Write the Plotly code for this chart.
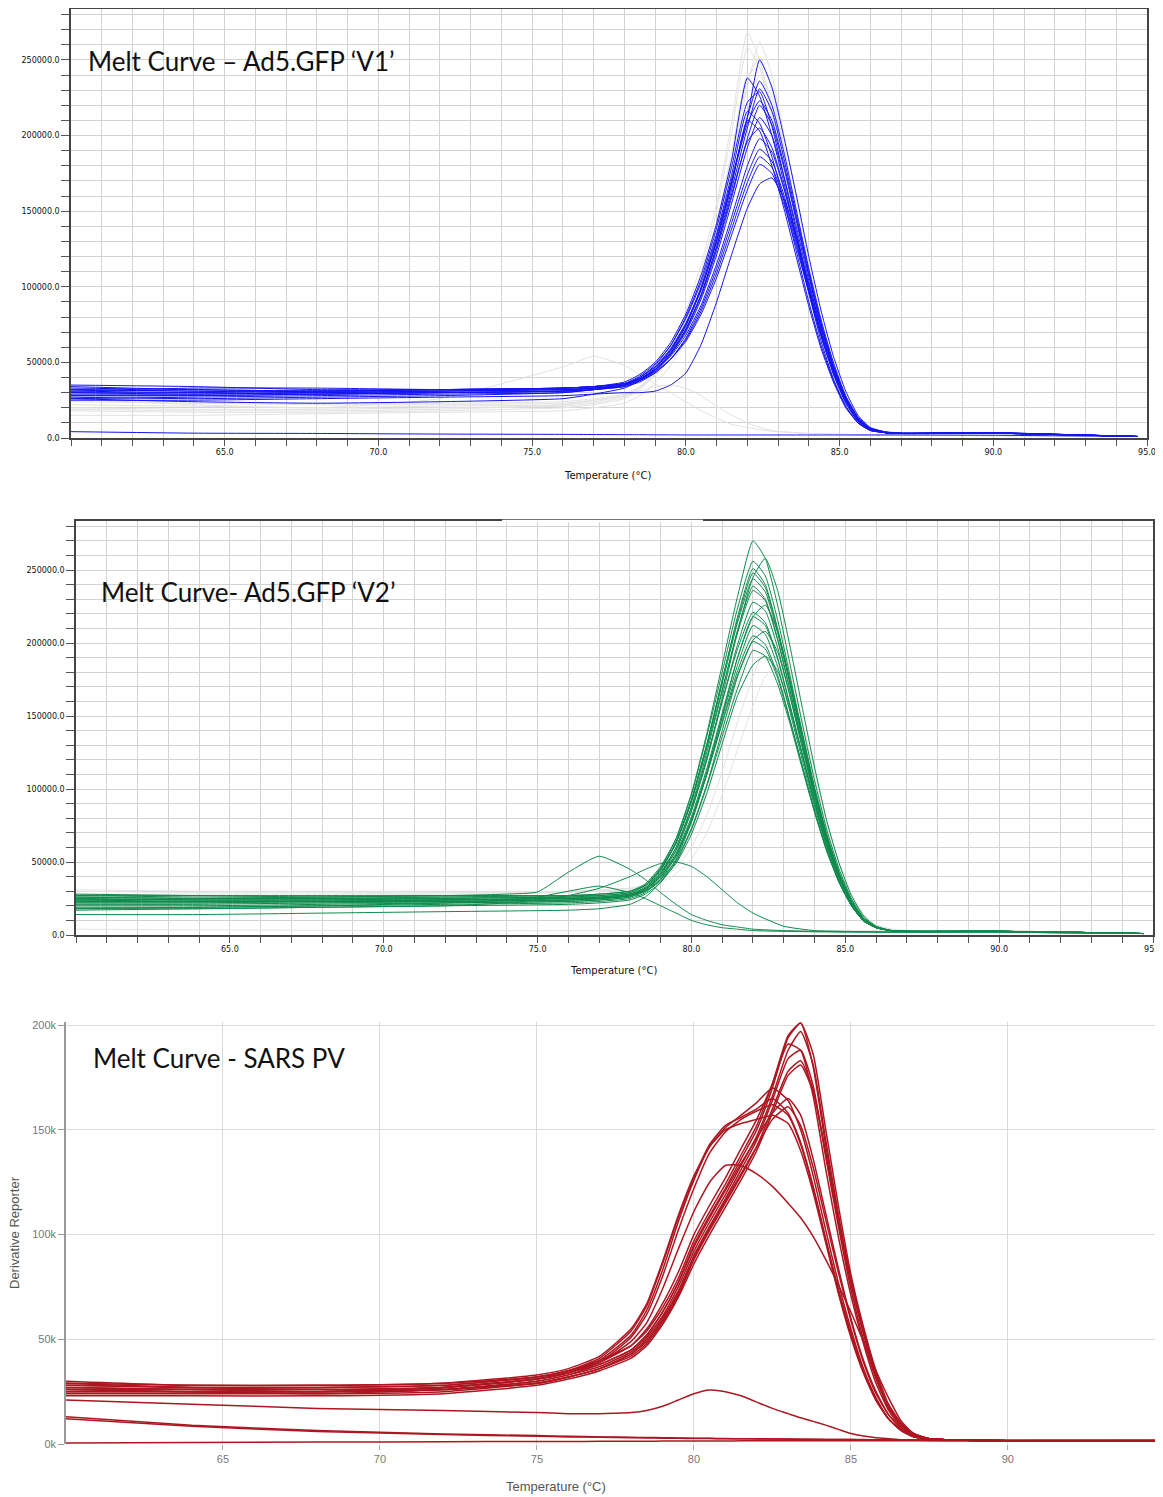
import plotly.graph_objects as go

# ---------------- Panel 1 : Ad5.GFP 'V1' (values in thousands) ----------------
T1 = [60, 64, 68, 72, 76, 77, 78, 78.5, 79, 79.5, 80, 80.5, 81, 81.5, 82, 82.4, 82.8,
      83.2, 83.6, 84, 84.4, 84.8, 85.2, 85.6, 86, 86.5, 87, 90, 92, 94.7]

v1_blue = [
    [32, 31, 31, 32, 33, 34, 36, 40, 47, 58, 75, 100, 133, 172, 212, 250, 232, 198, 160, 120, 84, 54, 31, 15, 7, 4, 3.5, 3.5, 2.5, 1],
    [30, 29, 30, 31, 33, 34, 37, 42, 50, 63, 82, 108, 142, 185, 238, 226, 200, 168, 132, 96, 64, 39, 21, 10, 5, 3.5, 3, 3.5, 2.5, 1],
    [28, 28, 29, 30, 31, 32, 35, 39, 46, 57, 74, 98, 130, 170, 212, 236, 220, 188, 150, 112, 78, 50, 28, 14, 6.5, 4, 3, 3.5, 2.5, 1],
    [34, 32, 31, 31, 32, 33, 35, 38, 44, 55, 71, 95, 127, 165, 205, 231, 216, 184, 147, 110, 76, 48, 27, 13, 6, 3.5, 3, 3.2, 2.3, 1],
    [26, 27, 28, 29, 30, 32, 35, 40, 48, 61, 80, 105, 139, 180, 222, 229, 206, 172, 136, 100, 68, 42, 23, 11, 5.5, 3.5, 3, 3.3, 2.4, 1],
    [31, 30, 29, 30, 31, 32, 34, 38, 45, 56, 72, 95, 126, 162, 198, 220, 207, 178, 143, 107, 74, 47, 26, 12, 6, 3.5, 3, 3.3, 2.4, 1],
    [33, 32, 31, 32, 33, 34, 36, 41, 49, 61, 79, 103, 135, 175, 216, 208, 186, 156, 123, 90, 61, 38, 21, 10, 5, 3.5, 3, 3.4, 2.4, 1],
    [29, 29, 30, 31, 32, 33, 35, 39, 45, 55, 70, 92, 121, 156, 192, 212, 200, 172, 139, 104, 72, 46, 26, 12, 6, 3.5, 3, 3.2, 2.3, 1],
    [27, 26, 27, 28, 30, 32, 35, 40, 47, 59, 76, 99, 130, 168, 210, 203, 180, 151, 119, 87, 59, 37, 20, 10, 5, 3.5, 3, 3.3, 2.4, 1],
    [30, 30, 31, 32, 33, 34, 36, 39, 45, 54, 68, 88, 115, 147, 180, 198, 189, 164, 133, 100, 70, 45, 25, 12, 6, 3.5, 3, 3.2, 2.3, 1],
    [32, 31, 30, 30, 31, 32, 34, 37, 43, 52, 66, 86, 112, 143, 174, 191, 183, 160, 130, 98, 69, 44, 25, 12, 6, 3.5, 3, 3.2, 2.3, 1],
    [28, 28, 29, 30, 31, 33, 35, 38, 43, 52, 65, 84, 109, 139, 169, 186, 179, 157, 128, 97, 68, 44, 25, 12, 6, 3.5, 3, 3.2, 2.3, 1],
    [35, 34, 32, 32, 33, 34, 36, 39, 44, 52, 64, 82, 106, 135, 164, 181, 175, 154, 126, 96, 67, 43, 24, 12, 6, 3.5, 3, 3.2, 2.3, 1],
    [25, 25, 26, 27, 28, 29, 30, 30, 31, 35, 43, 62, 90, 122, 152, 168, 172, 158, 132, 102, 72, 47, 27, 13, 6.5, 4, 3, 3.2, 2.3, 1],
    [31, 33, 33, 32, 32, 33, 35, 39, 46, 58, 75, 99, 131, 170, 208, 223, 210, 180, 145, 108, 75, 48, 27, 13, 6, 3.5, 3, 3.3, 2.4, 1],
    [26, 24, 23, 24, 26, 29, 33, 38, 45, 56, 72, 94, 124, 160, 196, 205, 192, 165, 133, 99, 68, 43, 24, 11, 5.5, 3.5, 3, 3.2, 2.3, 1],
    [4.2, 3.2, 3.0, 2.6, 2.4, 2.3, 2.2, 2.2, 2.1, 2.1, 2.0, 2.0, 2.0, 2.0, 2.0, 2.0, 2.0, 2.0, 2.0, 2.0, 2.0, 2.0, 2.0, 2.0, 2.0, 2.0, 2.0, 1.8, 1.5, 1.0],
]

v1_gray = [
    [22, 21, 20, 21, 22, 24, 28, 34, 44, 60, 84, 115, 155, 210, 268, 250, 215, 175, 135, 98, 65, 40, 22, 10, 5, 3.5, 3, 3, 2, 1],
    [18, 17, 17, 18, 20, 22, 26, 32, 42, 57, 80, 110, 150, 203, 258, 245, 212, 172, 133, 96, 64, 39, 21, 10, 5, 3.5, 3, 3, 2, 1],
    [25, 24, 23, 23, 24, 26, 29, 34, 42, 55, 74, 100, 136, 182, 232, 262, 240, 200, 158, 116, 78, 48, 26, 12, 6, 3.5, 3, 3, 2, 1],
    [20, 19, 19, 20, 21, 23, 27, 33, 42, 56, 77, 105, 142, 190, 240, 245, 220, 182, 142, 104, 70, 43, 23, 11, 5, 3.5, 3, 3, 2, 1],
    [26, 22, 20, 26, 47, 54, 48, 42, 36, 30, 24, 18, 13, 9, 7, 5.5, 4.5, 4, 3.5, 3, 3, 2.5, 2.5, 2, 2, 2, 2, 1.5, 1.2, 1],
    [19, 18, 18, 19, 22, 25, 28, 31, 34, 35, 33, 28, 21, 15, 10, 7, 5, 4, 3.5, 3, 3, 2.5, 2.5, 2, 2, 2, 2, 1.5, 1.2, 1],
    [15, 15, 16, 17, 18, 20, 23, 28, 36, 48, 66, 92, 126, 170, 215, 240, 225, 190, 150, 110, 74, 45, 24, 11, 5, 3.5, 3, 3, 2, 1],
    [24, 23, 22, 22, 23, 25, 28, 33, 41, 54, 73, 100, 137, 184, 236, 252, 230, 192, 150, 110, 74, 46, 25, 12, 5.5, 3.5, 3, 3, 2, 1],
]

# ---------------- Panel 2 : Ad5.GFP 'V2' ----------------
T2 = T1

v2_green = [
    [26, 25, 25, 26, 27, 27, 29, 34, 46, 66, 97, 138, 185, 232, 270, 258, 226, 186, 145, 106, 72, 45, 25, 12, 6, 3, 2.5, 2.5, 2, 1],
    [24, 24, 24, 25, 26, 26, 28, 32, 42, 58, 85, 120, 163, 208, 245, 258, 236, 198, 156, 115, 78, 49, 27, 13, 6, 3, 2.5, 2.5, 2, 1],
    [27, 26, 26, 27, 27, 28, 30, 35, 47, 66, 96, 136, 180, 224, 256, 246, 216, 178, 139, 101, 68, 42, 23, 11, 5.5, 3, 2.5, 2.5, 2, 1],
    [22, 22, 23, 24, 25, 25, 27, 32, 44, 63, 92, 130, 174, 218, 251, 240, 210, 174, 136, 99, 67, 42, 23, 11, 5.5, 3, 2.5, 2.5, 2, 1],
    [25, 24, 24, 24, 25, 26, 28, 33, 45, 64, 93, 131, 175, 216, 248, 238, 209, 173, 135, 99, 67, 41, 22, 11, 5.5, 3, 2.5, 2.5, 2, 1],
    [20, 20, 21, 22, 23, 24, 26, 31, 42, 60, 88, 125, 167, 209, 239, 230, 203, 168, 131, 96, 65, 40, 22, 10, 5, 3, 2.5, 2.5, 2, 1],
    [28, 27, 26, 26, 26, 27, 29, 34, 45, 63, 91, 128, 168, 207, 236, 229, 202, 168, 131, 96, 65, 40, 22, 10, 5, 3, 2.5, 2.5, 2, 1],
    [23, 23, 23, 24, 25, 25, 27, 31, 41, 58, 85, 120, 160, 199, 228, 222, 197, 164, 128, 94, 64, 40, 22, 10, 5, 3, 2.5, 2.5, 2, 1],
    [21, 21, 22, 22, 23, 24, 26, 30, 39, 54, 78, 110, 150, 190, 218, 226, 208, 175, 138, 101, 69, 43, 24, 11, 5.5, 3, 2.5, 2.5, 2, 1],
    [26, 25, 25, 25, 26, 26, 28, 32, 43, 60, 87, 122, 160, 196, 221, 214, 190, 158, 124, 91, 62, 39, 21, 10, 5, 3, 2.5, 2.5, 2, 1],
    [24, 23, 23, 23, 24, 25, 27, 31, 40, 56, 81, 114, 152, 190, 218, 212, 189, 157, 123, 90, 61, 38, 21, 10, 5, 3, 2.5, 2.5, 2, 1],
    [19, 19, 20, 21, 22, 23, 25, 29, 38, 54, 79, 112, 149, 185, 212, 206, 184, 153, 120, 88, 60, 37, 20, 9.5, 5, 3, 2.5, 2.5, 2, 1],
    [22, 22, 22, 23, 24, 25, 27, 30, 38, 51, 73, 103, 140, 177, 202, 208, 194, 164, 130, 96, 66, 41, 23, 11, 5.5, 3, 2.5, 2.5, 2, 1],
    [25, 24, 24, 24, 25, 25, 27, 31, 40, 55, 79, 110, 145, 178, 201, 196, 176, 147, 116, 85, 58, 36, 20, 9.5, 5, 3, 2.5, 2.5, 2, 1],
    [18, 18, 19, 20, 21, 22, 24, 28, 36, 50, 72, 102, 136, 169, 195, 191, 172, 145, 114, 84, 57, 36, 20, 9.5, 5, 3, 2.5, 2.5, 2, 1],
    [23, 23, 23, 23, 24, 25, 27, 30, 37, 49, 69, 97, 131, 164, 185, 191, 181, 155, 124, 92, 63, 40, 22, 10.5, 5.5, 3, 2.5, 2.5, 2, 1],
    [14, 14, 15, 16, 17, 18, 21, 26, 36, 52, 77, 110, 146, 181, 205, 199, 178, 148, 116, 85, 58, 36, 20, 9.5, 5, 3, 2.5, 2.5, 2, 1],
    [27, 27, 27, 27, 27, 28, 30, 34, 45, 63, 92, 130, 172, 214, 244, 235, 207, 172, 134, 98, 66, 41, 22, 10, 5, 3, 2.5, 2.5, 2, 1],
]

# early-melting green wells, on their own temperature grid
T2b = [60, 64, 68, 72, 74, 75, 76, 77, 78, 78.5, 79, 79.5, 80, 80.5, 81, 81.5, 82, 83, 84, 85, 86, 87, 90, 92, 94.7]
v2_green_odd = [
    [24, 25, 26, 27, 28, 29.5, 43, 54, 45, 38, 29, 21, 14, 10, 7, 5.5, 4, 3, 2.5, 2.2, 2, 2, 2, 1.5, 1],
    [18, 19, 20, 22, 24, 26, 30, 33.5, 29, 25, 20, 15, 10, 7, 5, 4, 3, 2.5, 2.2, 2, 2, 2, 2, 1.5, 1],
    [17, 18, 19, 20, 22, 24, 27, 32, 40, 45, 49, 50, 47, 40, 31, 22, 15, 6, 3, 2.5, 2.2, 2, 2, 1.5, 1],
]

v2_gray = [
    [30, 29, 29, 29, 30, 31, 32, 35, 42, 53, 72, 99, 134, 172, 203, 215, 203, 174, 140, 104, 71, 45, 25, 12, 6, 3.5, 3, 3, 2, 1],
    [28, 28, 28, 29, 29, 30, 31, 33, 38, 46, 60, 82, 112, 146, 177, 196, 200, 180, 148, 112, 78, 50, 28, 14, 7, 4, 3, 3, 2, 1],
    [31, 30, 30, 30, 30, 31, 32, 33, 36, 42, 52, 70, 96, 127, 157, 177, 185, 170, 142, 108, 76, 49, 28, 14, 7, 4, 3, 3, 2, 1],
    [26, 26, 27, 28, 29, 30, 31, 34, 41, 53, 73, 102, 140, 180, 214, 230, 215, 182, 145, 107, 73, 46, 25, 12, 6, 3.5, 3, 3, 2, 1],
    [4, 3.5, 3.2, 3, 3, 3, 3, 3, 3, 3, 3, 3, 3, 3, 3, 3, 3, 3, 3, 3, 3, 3, 3, 3, 3, 3, 2.8, 2.5, 2, 1],
]

# ---------------- Panel 3 : SARS PV ----------------
T3 = [60, 64, 68, 72, 75, 76, 77, 78, 78.5, 79, 79.5, 80, 80.5, 81, 81.5, 82, 82.5, 83,
      83.4, 83.8, 84.2, 84.6, 85, 85.4, 85.8, 86.2, 86.6, 87, 87.5, 88, 90, 94.75]

v3_red = [
    [27, 26, 26, 27, 31, 34, 38, 45, 52, 63, 77, 95, 109, 122, 136, 150, 170, 194, 201, 180, 142, 108, 77, 53, 33, 18, 9, 4.5, 2.5, 2, 1.5, 1.5],
    [29, 27, 27, 28, 32, 35, 40, 47, 54, 65, 79, 97, 111, 124, 138, 152, 172, 195, 201, 186, 150, 114, 81, 56, 35, 19, 10, 5, 2.5, 2, 1.5, 1.5],
    [25, 25, 24, 26, 30, 33, 37, 44, 51, 61, 75, 92, 106, 119, 133, 147, 166, 188, 197, 181, 145, 110, 79, 54, 33, 18, 9.5, 4.5, 2.5, 2, 1.5, 1.5],
    [28, 27, 26, 27, 31, 34, 39, 47, 55, 67, 82, 100, 114, 127, 141, 155, 172, 191, 188, 166, 131, 99, 71, 48, 29, 16, 8, 4, 2.5, 2, 1.5, 1.5],
    [24, 24, 24, 25, 29, 32, 36, 43, 50, 60, 73, 90, 104, 117, 131, 145, 164, 184, 188, 171, 137, 104, 74, 50, 31, 17, 9, 4.5, 2.5, 2, 1.5, 1.5],
    [26, 25, 25, 26, 29, 32, 36, 42, 48, 58, 71, 88, 102, 115, 128, 142, 160, 178, 183, 169, 138, 106, 77, 53, 32, 18, 9.5, 4.5, 2.5, 2, 1.5, 1.5],
    [23, 23, 23, 24, 28, 31, 35, 41, 47, 57, 70, 86, 100, 113, 126, 140, 158, 176, 181, 168, 139, 107, 78, 54, 33, 18, 9.5, 5, 2.5, 2, 1.5, 1.5],
    [27, 26, 26, 27, 31, 34, 40, 52, 64, 83, 106, 126, 142, 151, 157, 163, 170, 164, 150, 128, 102, 77, 55, 36, 22, 12, 6.5, 3.5, 2.5, 2, 1.5, 1.5],
    [28, 27, 27, 28, 32, 35, 41, 54, 66, 86, 108, 127, 143, 152, 156, 160, 165, 158, 144, 123, 98, 74, 53, 35, 21, 12, 6.5, 3.5, 2.5, 2, 1.5, 1.5],
    [29, 28, 28, 29, 33, 36, 42, 55, 67, 87, 109, 128, 142, 150, 153, 155, 157, 153, 140, 120, 96, 72, 51, 34, 21, 12, 6.5, 3.5, 2.5, 2, 1.5, 1.5],
    [26, 26, 25, 27, 31, 34, 39, 51, 62, 80, 102, 122, 139, 149, 155, 159, 162, 157, 143, 122, 97, 73, 52, 34, 21, 12, 6.5, 3.5, 2.5, 2, 1.5, 1.5],
    [26, 25, 25, 26, 30, 33, 38, 45, 52, 63, 77, 94, 108, 121, 134, 146, 158, 165, 157, 136, 110, 84, 60, 40, 25, 14, 7.5, 4, 2.5, 2, 1.5, 1.5],
    [25, 25, 25, 26, 29, 32, 36, 43, 49, 59, 72, 89, 103, 116, 129, 142, 155, 161, 152, 132, 107, 82, 59, 39, 24, 14, 7.5, 4, 2.5, 2, 1.5, 1.5],
    [30, 28, 28, 29, 32, 35, 39, 49, 58, 74, 93, 111, 125, 133, 133, 129, 123, 115, 108, 99, 88, 76, 63, 49, 35, 22, 11, 5, 2.5, 2, 1.5, 1.5],
    [21, 19, 17, 16, 15, 14.5, 14.5, 15, 16, 18, 21, 24, 25.8, 25, 23, 20, 17, 14.5, 12.5, 10.8, 9, 7, 5, 3.8, 3, 2.5, 2, 1.8, 1.7, 1.6, 1.5, 1.5],
    [13, 9, 6.5, 4.8, 4, 3.7, 3.4, 3.2, 3.1, 3, 2.9, 2.8, 2.7, 2.6, 2.5, 2.5, 2.4, 2.4, 2.3, 2.3, 2.2, 2.2, 2.1, 2.1, 2, 2, 2, 2, 2, 2, 1.8, 1.8],
    [12, 8.5, 6, 4.5, 3.7, 3.4, 3.2, 3, 2.9, 2.8, 2.7, 2.6, 2.6, 2.5, 2.5, 2.4, 2.4, 2.3, 2.3, 2.2, 2.2, 2.1, 2.1, 2, 2, 2, 2, 2, 2, 2, 1.8, 1.8],
    [0.5, 0.7, 0.9, 1.1, 1.2, 1.2, 1.3, 1.3, 1.3, 1.4, 1.4, 1.4, 1.4, 1.4, 1.5, 1.5, 1.5, 1.5, 1.5, 1.5, 1.5, 1.5, 1.5, 1.5, 1.5, 1.5, 1.5, 1.5, 1.5, 1.5, 1.6, 1.7],
]

titles = ["Melt Curve \u2013 Ad5.GFP \u2018V1\u2019", "Melt Curve- Ad5.GFP \u2018V2\u2019", "Melt Curve - SARS PV"]
x_title = "Temperature (\u00b0C)"
y_title3 = "Derivative Reporter"
x12_ticks = [65, 70, 75, 80, 85, 90, 95]
x3_ticks = [65, 70, 75, 80, 85, 90]
y3_ticks = [0, 50000, 100000, 150000, 200000]
y3_ticktext = ["0k", "50k", "100k", "150k", "200k"]

# The page places the figure 8 px from the top-left corner (default body margin),
# so the figure is sized to the remaining window and page pixels are shifted.
OFF = 8
W, H = 1163 - OFF, 1497 - OFF
def px_x(p): return (p - OFF) / W
def px_y(p): return 1 - (p - OFF) / H

fig = go.Figure()

def add_lines(T, curves, color, width, xa, ya, shape="spline"):
    for c in curves:
        fig.add_trace(go.Scatter(x=T, y=[v * 1000 for v in c], mode="lines",
                                 line=dict(color=color, width=width, shape=shape, smoothing=0.5),
                                 xaxis=xa, yaxis=ya, showlegend=False, hoverinfo="skip"))

add_lines(T1, v1_gray, "#e2e2e2", 1.0, "x", "y")
add_lines(T1, v1_blue, "#1414f2", 1.0, "x", "y")
add_lines(T2, v2_gray, "#e4e4e4", 1.0, "x2", "y2")
add_lines(T2, v2_green, "#0e8a4c", 1.0, "x2", "y2")
add_lines(T2b, v2_green_odd, "#0e8a4c", 1.0, "x2", "y2")
add_lines(T3, v3_red, "#ad1621", 1.5, "x3", "y3")

tick_font = dict(family="DejaVu Sans, Verdana", size=8, color="#111")
grid_c = "#d2d2d2"

def step_axes(xdom, ydom, ymax):
    xa = dict(domain=xdom, range=[60, 95], tickvals=x12_ticks, tickformat=".1f",
              showgrid=True, gridcolor=grid_c, gridwidth=1,
              ticks="outside", ticklen=6, tickcolor="#555",
              minor=dict(dtick=1, tick0=60, showgrid=True, gridcolor=grid_c, ticks="outside", ticklen=6, tickcolor="#555"),
              showline=True, linecolor="#444", linewidth=1.5, mirror=True,
              tickfont=tick_font, zeroline=False, automargin=False)
    ya = dict(domain=ydom, range=[0, ymax], dtick=50000, tick0=0, tickformat=".1f",
              showgrid=True, gridcolor=grid_c, gridwidth=1,
              ticks="outside", ticklen=8, tickcolor="#555",
              minor=dict(dtick=10000, showgrid=True, gridcolor=grid_c, ticks="outside", ticklen=8, tickcolor="#555"),
              showline=True, linecolor="#444", linewidth=1.5, mirror=True,
              tickfont=tick_font, zeroline=False, exponentformat="none", automargin=False)
    return xa, ya

xa1, ya1 = step_axes([px_x(71), px_x(1147)], [px_y(438), px_y(9)], 283700)
xa2, ya2 = step_axes([px_x(76), px_x(1153)], [px_y(935), px_y(521)], 283600)
xa1["anchor"] = "y"; ya1["anchor"] = "x"
xa2["anchor"] = "y2"; ya2["anchor"] = "x2"

xa3 = dict(domain=[px_x(66), px_x(1157)], range=[60, 94.75], tickvals=x3_ticks,
           showgrid=True, gridcolor="#dadada", gridwidth=1, zeroline=False,
           ticks="outside", ticklen=5, tickcolor="#aaa", showline=False,
           tickfont=dict(family="Liberation Sans, Arial", size=11, color="#777"),
           anchor="y3", automargin=False)
ya3 = dict(domain=[px_y(1444), px_y(1022)], range=[0, 201500],
           tickvals=y3_ticks, ticktext=y3_ticktext,
           showgrid=True, gridcolor="#dadada", gridwidth=1, zeroline=False,
           ticks="outside", ticklen=6, tickcolor="#999",
           showline=True, linecolor="#999", linewidth=1.5,
           tickfont=dict(family="Liberation Sans, Arial", size=11, color="#777"),
           anchor="x3", automargin=False)

def ann(text, x, y, size, color, family, xanchor="left", angle=0):
    return dict(text=text, x=px_x(x), y=px_y(y), xref="paper", yref="paper", xanchor=xanchor,
                yanchor="middle", showarrow=False, textangle=angle,
                font=dict(family=family, size=size, color=color))

annotations = [
    ann(titles[0], 86, 61, 26, "#111", "Lato, Open Sans"),
    ann(titles[1], 99, 592, 26, "#111", "Lato, Open Sans"),
    ann(titles[2], 91, 1058, 26, "#111", "Lato, Open Sans"),
    ann(x_title, 607, 475, 10, "#111", "DejaVu Sans, Verdana", xanchor="center"),
    ann(x_title, 613, 970, 10, "#111", "DejaVu Sans, Verdana", xanchor="center"),
    ann(x_title, 556, 1486, 13, "#555", "Liberation Sans, Arial", xanchor="center"),
    ann(y_title3, 14, 1233, 13, "#555", "Liberation Sans, Arial", xanchor="center", angle=-90),
]

shapes = [
    dict(type="line", xref="paper", yref="paper", x0=px_x(502), x1=px_x(703), y0=px_y(521), y1=px_y(521),
         line=dict(color="white", width=2.5)),
]

fig.update_layout(
    width=W, height=H, margin=dict(l=0, r=0, t=0, b=0, autoexpand=False),
    paper_bgcolor="white", plot_bgcolor="white",
    xaxis=xa1, yaxis=ya1, xaxis2=xa2, yaxis2=ya2, xaxis3=xa3, yaxis3=ya3,
    annotations=annotations, shapes=shapes, showlegend=False,
)

fig.write_html("out.html")
